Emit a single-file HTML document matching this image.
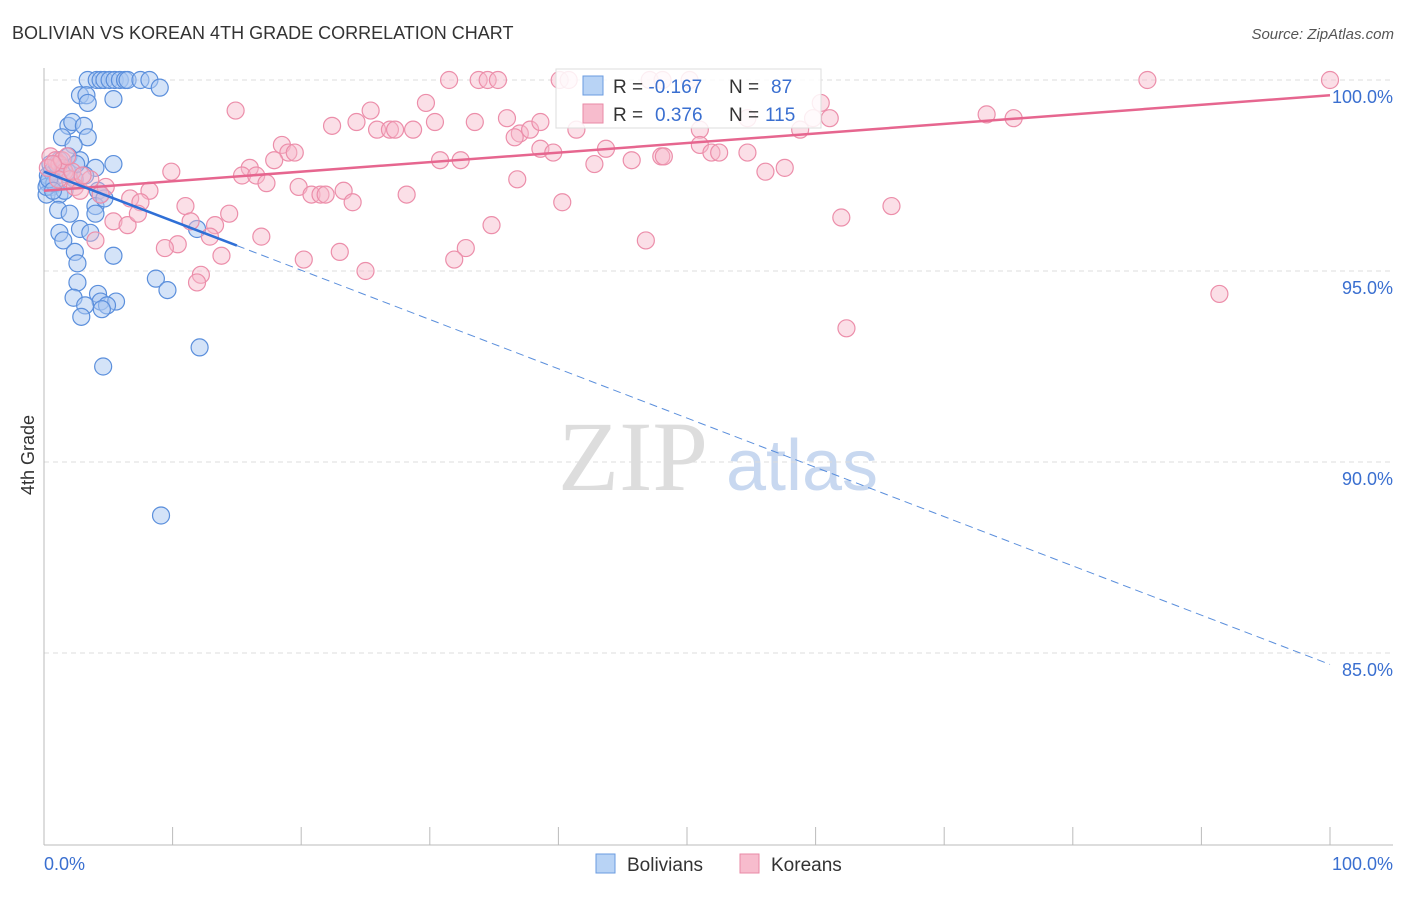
<!DOCTYPE html>
<html><head><meta charset="utf-8"><style>
body{margin:0;background:#fff;font-family:"Liberation Sans",sans-serif}
</style></head><body>
<svg id="c" width="1406" height="892" xmlns="http://www.w3.org/2000/svg">
<text x="12" y="39" font-size="18" fill="#333">BOLIVIAN VS KOREAN 4TH GRADE CORRELATION CHART</text>
<text x="1394" y="39" font-size="15" fill="#555" text-anchor="end" font-style="italic">Source: ZipAtlas.com</text>
<text x="633" y="490" font-size="100" fill="#ddd" font-family="Liberation Serif" text-anchor="middle">ZIP</text>
<text x="802" y="490" font-size="72" fill="#c8d8f0" text-anchor="middle">atlas</text>
<text x="34" y="455" font-size="18" fill="#333" text-anchor="middle" transform="rotate(-90 34 455)">4th Grade</text>
<g id="grid"></g><g id="pts"></g><g id="lines"></g>
<g>
<rect x="556" y="69" width="265" height="59" fill="#fff" fill-opacity="0.85" stroke="#ddd"/>
<rect x="583" y="76" width="20" height="19" fill="#b8d3f5" stroke="#6a9be0"/>
<rect x="583" y="104" width="20" height="19" fill="#f7bccd" stroke="#e88aa6"/>
<text x="613" y="93" font-size="19" fill="#333">R = <tspan fill="#3a6fd0">-0.167</tspan><tspan x="729">N = </tspan><tspan fill="#3a6fd0" x="771">87</tspan></text>
<text x="613" y="121" font-size="19" fill="#333">R = <tspan fill="#3a6fd0" x="655">0.376</tspan><tspan x="729">N = </tspan><tspan fill="#3a6fd0" x="765">115</tspan></text>
</g>
<g>
<rect x="596" y="854" width="19" height="19" fill="#b8d3f5" stroke="#6a9be0"/>
<text x="627" y="871" font-size="19" fill="#333">Bolivians</text>
<rect x="740" y="854" width="19" height="19" fill="#f7bccd" stroke="#e88aa6"/>
<text x="771" y="871" font-size="19" fill="#333">Koreans</text>
</g>
</svg>
<script>
const yTicks=[100,95,90,85];
const yTickLabels=["100.0%","95.0%","90.0%","85.0%"];
const xEnds=["0.0%","100.0%"];
const bolX=[3.4,4.1,4.4,4.7,5.1,5.5,5.9,6.3,6.5,7.5,8.2,9.0,2.8,3.3,3.4,5.4,1.9,2.2,3.1,1.4,3.4,2.3,1.2,1.9,2.8,4.0,5.4,0.5,0.9,0.3,0.6,0.2,1.2,1.6,2.4,3.2,4.2,4.4,4.0,1.1,2.0,4.0,1.2,2.8,3.6,1.5,2.4,5.4,2.6,2.6,8.7,9.6,2.3,4.2,4.4,5.6,3.2,4.9,2.9,4.5,12.1,4.6,9.1,11.9,4.7,0.3,0.6,1.0,0.2,0.8,1.5,0.4,1.8,2.5,0.7];
const bolY=[100,100,100,100,100,100,100,100,100,100,100,99.8,99.6,99.6,99.4,99.5,98.8,98.9,98.8,98.5,98.5,98.3,97.9,98.0,97.9,97.7,97.8,97.8,97.6,97.3,97.2,97.0,97.0,97.1,97.4,97.5,97.1,97.0,96.7,96.6,96.5,96.5,96.0,96.1,96.0,95.8,95.5,95.4,95.2,94.7,94.8,94.5,94.3,94.4,94.2,94.2,94.1,94.1,93.8,94.0,93.0,92.5,88.6,96.1,96.9,97.5,97.6,97.8,97.2,97.3,97.7,97.4,97.6,97.8,97.1];
const korX=[100,85.8,31.5,33.8,34.5,35.3,40.1,40.8,47.1,48.1,50.2,14.9,29.7,25.4,24.3,22.4,25.9,26.9,27.3,28.7,30.4,33.5,36.0,37.0,37.8,38.6,41.4,51.0,54.7,60.4,58.8,59.8,61.1,73.3,75.4,36.6,43.7,38.6,39.6,51.0,51.9,52.5,54.7,48.0,48.2,45.7,42.8,32.4,30.8,57.6,56.1,18.5,19.0,19.5,17.9,16.0,15.4,16.5,9.9,17.3,36.8,19.8,20.8,21.5,21.9,23.3,24.0,28.2,40.3,11.0,8.2,6.7,4.8,7.5,14.4,13.3,11.4,5.4,6.5,7.3,12.9,16.9,34.8,62.0,65.9,10.4,9.4,4.0,13.8,23.0,20.2,32.8,31.9,46.8,25.0,12.2,11.9,91.4,62.4,0.5,0.9,1.2,1.6,2.0,1.1,2.4,2.8,3.6,0.3,1.4,2.2,3.0,1.8,0.7,4.4];
const korY=[100,100,100,100,100,100,100,100,100,100,100,99.2,99.4,99.2,98.9,98.8,98.7,98.7,98.7,98.7,98.9,98.9,99.0,98.6,98.7,98.9,98.7,98.7,99.0,99.4,98.7,99.0,99.0,99.1,99.0,98.5,98.2,98.2,98.1,98.3,98.1,98.1,98.1,98.0,98.0,97.9,97.8,97.9,97.9,97.7,97.6,98.3,98.1,98.1,97.9,97.7,97.5,97.5,97.6,97.3,97.4,97.2,97.0,97.0,97.0,97.1,96.8,97.0,96.8,96.7,97.1,96.9,97.2,96.8,96.5,96.2,96.3,96.3,96.2,96.5,95.9,95.9,96.2,96.4,96.7,95.7,95.6,95.8,95.4,95.5,95.3,95.6,95.3,95.8,95.0,94.9,94.7,94.4,93.5,98.0,97.9,97.8,97.6,97.4,97.4,97.2,97.1,97.4,97.7,97.9,97.6,97.5,98.0,97.8,97.0];
const korTrend=[97.1,99.6];
const bolTrend=[97.6,84.7];
const bolSolidEnd=15;
const X=v=>44+v*12.86, Y=v=>80+(100-v)*38.2;
const NS="http://www.w3.org/2000/svg";
function mk(t,a,p){const e=document.createElementNS(NS,t);for(const k in a)e.setAttribute(k,a[k]);p.appendChild(e);return e;}
const g=document.getElementById('grid');
yTicks.forEach((t,i)=>{
 const l=mk('line',{x1:44,x2:1393,y1:Y(t),y2:Y(t),stroke:'#ddd','stroke-dasharray':'5,4'},g);
 
 
 const tx=mk('text',{x:1393,y:Y(t)+23,'font-size':18,fill:'#3a6fd0','text-anchor':'end'},g);
 tx.textContent=yTickLabels[i];
 
 
});
const ax=mk('line',{x1:44,x2:44,y1:68,y2:845,stroke:'#bbb'},g);


const bx=mk('line',{x1:44,x2:1393,y1:845,y2:845,stroke:'#bbb'},g);


for(let i=1;i<=10;i++){const tk=mk('line',{x1:X(i*10),x2:X(i*10),y1:827,y2:845,stroke:'#bbb'},g);
 
 }
xEnds.forEach((s,i)=>{const t=mk('text',{x:i?1393:44,y:870,'font-size':18,fill:'#3a6fd0','text-anchor':i?'end':'start'},g);t.textContent=s;
 
 });
const p=document.getElementById('pts');
bolX.forEach((x,i)=>{const c=mk('circle',{cx:X(x),cy:Y(bolY[i]),r:8.5,fill:'#a9c8f2','fill-opacity':0.5,stroke:'#5b8fdc','stroke-width':1.2},p);
 
 });
korX.forEach((x,i)=>{const c=mk('circle',{cx:X(x),cy:Y(korY[i]),r:8.5,fill:'#f6b8ca','fill-opacity':0.45,stroke:'#ec8eaa','stroke-width':1.2},p);
 
 });
const L=document.getElementById('lines');
const k=mk('line',{x1:X(0),y1:Y(korTrend[0]),x2:X(100),y2:Y(korTrend[1]),stroke:'#e6668f','stroke-width':2.5},L);


const bm=v=>bolTrend[0]+(bolTrend[1]-bolTrend[0])*v/100;
const b1=mk('line',{x1:X(0),y1:Y(bm(0)),x2:X(bolSolidEnd),y2:Y(bm(bolSolidEnd)),stroke:'#2f6fd6','stroke-width':2.5},L);


const b2=mk('line',{x1:X(bolSolidEnd),y1:Y(bm(bolSolidEnd)),x2:X(100),y2:Y(bm(100)),stroke:'#5b8fdc','stroke-width':1,'stroke-dasharray':'8,5'},L);


</script>
</body></html>
